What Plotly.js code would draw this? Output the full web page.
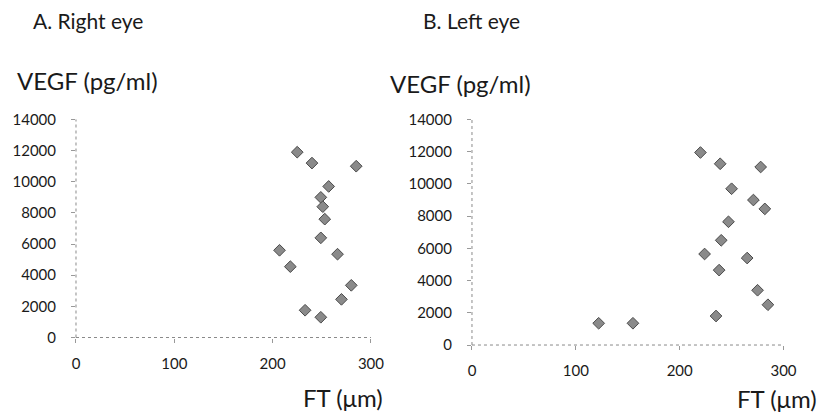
<!DOCTYPE html>
<html>
<head>
<meta charset="utf-8">
<script src="https://cdn.plot.ly/plotly-3.0.1.min.js"></script>
<style>html,body{margin:0;padding:0;background:#fff;}#chart{width:837px;height:413px;}</style>
</head>
<body>
<div id="chart"></div>
<script>
// Right eye (A)
const rightFT   = [225, 240, 285, 257, 249, 251, 253, 249, 207, 266, 218, 280, 270, 233, 249];
const rightVEGF = [11900, 11200, 11000, 9700, 9000, 8400, 7600, 6400, 5600, 5350, 4550, 3350, 2450, 1750, 1300];
// Left eye (B)
const leftFT   = [220, 239, 278, 250, 271, 282, 247, 240, 224, 265, 238, 275, 285, 235, 122, 155];
const leftVEGF = [11950, 11250, 11050, 9700, 9000, 8450, 7650, 6500, 5650, 5400, 4650, 3400, 2500, 1800, 1350, 1350];

const xTicks = [0, 100, 200, 300];
const yTicks = [0, 2000, 4000, 6000, 8000, 10000, 12000, 14000];

const titles = {a: "A. Right eye", b: "B. Left eye", y: "VEGF (pg/ml)", x: "FT (\u03bcm)"};

const font = {family: "Lato, 'Open Sans', sans-serif", size: 15, color: "#1a1a1a"};
const marker = {symbol: "diamond", size: 9, color: "#8a8a8a", line: {color: "#4a4a4a", width: 1}};

const traces = [
  {x: rightFT, y: rightVEGF, type: "scatter", mode: "markers", marker: marker, xaxis: "x", yaxis: "y", hoverinfo: "x+y"},
  {x: leftFT, y: leftVEGF, type: "scatter", mode: "markers", marker: marker, xaxis: "x2", yaxis: "y2", hoverinfo: "x+y"}
];

function xa(domain, anchor) {
  return {domain: domain, anchor: anchor, range: [0, 300], tickvals: xTicks, ticktext: xTicks.map(String),
    showgrid: false, zeroline: false, showline: false, ticks: "outside", ticklen: 4, tickcolor: "#999",
    ticklabelstandoff: 8, tickfont: font, fixedrange: true};
}
function ya(domain, anchor) {
  return {domain: domain, anchor: anchor, range: [0, 14000], tickvals: yTicks, ticktext: yTicks.map(String),
    showgrid: false, zeroline: false, showline: false, ticks: "outside", ticklen: 4, tickcolor: "#999",
    ticklabelstandoff: 12, tickfont: font, fixedrange: true};
}

function axisLines(xr, yr) {
  const st = {color: "#8a8a8a", width: 1, dash: "dot"};
  return [
    {type: "line", xref: xr + " domain", yref: yr + " domain", x0: 0, x1: 1, y0: 0, y1: 0, line: st},
    {type: "line", xref: xr + " domain", yref: yr + " domain", x0: 0, x1: 0, y0: 0, y1: 1, line: st}
  ];
}

const tfont = {family: font.family, size: 21, color: "#1a1a1a"};
const afont = {family: font.family, size: 24, color: "#1a1a1a"};

const layout = {
  width: 837, height: 413,
  margin: {l: 0, r: 0, t: 0, b: 0},
  paper_bgcolor: "#fff", plot_bgcolor: "#fff",
  showlegend: false,
  font: font,
  xaxis: xa([0.0908, 0.4432], "y"),
  yaxis: ya([0.1828, 0.7107], "x"),
  xaxis2: xa([0.5639, 0.9361], "y2"),
  yaxis2: ya([0.1646, 0.7107], "x2"),
  shapes: axisLines("x", "y").concat(axisLines("x2", "y2")),
  annotations: [
    {text: titles.a, xref: "paper", yref: "paper", x: 88/837, y: 1 - 21/413, xanchor: "center", yanchor: "middle", showarrow: false, font: tfont},
    {text: titles.b, xref: "paper", yref: "paper", x: 471/837, y: 1 - 21/413, xanchor: "center", yanchor: "middle", showarrow: false, font: tfont},
    {text: titles.y, xref: "paper", yref: "paper", x: 87/837, y: 1 - 80/413, xanchor: "center", yanchor: "middle", showarrow: false, font: afont},
    {text: titles.y, xref: "paper", yref: "paper", x: 460/837, y: 1 - 83/413, xanchor: "center", yanchor: "middle", showarrow: false, font: afont},
    {text: titles.x, xref: "paper", yref: "paper", x: 343/837, y: 1 - 397/413, xanchor: "center", yanchor: "middle", showarrow: false, font: afont},
    {text: titles.x, xref: "paper", yref: "paper", x: 777/837, y: 1 - 398/413, xanchor: "center", yanchor: "middle", showarrow: false, font: afont}
  ]
};

Plotly.newPlot("chart", traces, layout, {displayModeBar: false, staticPlot: true});
</script>
</body>
</html>
